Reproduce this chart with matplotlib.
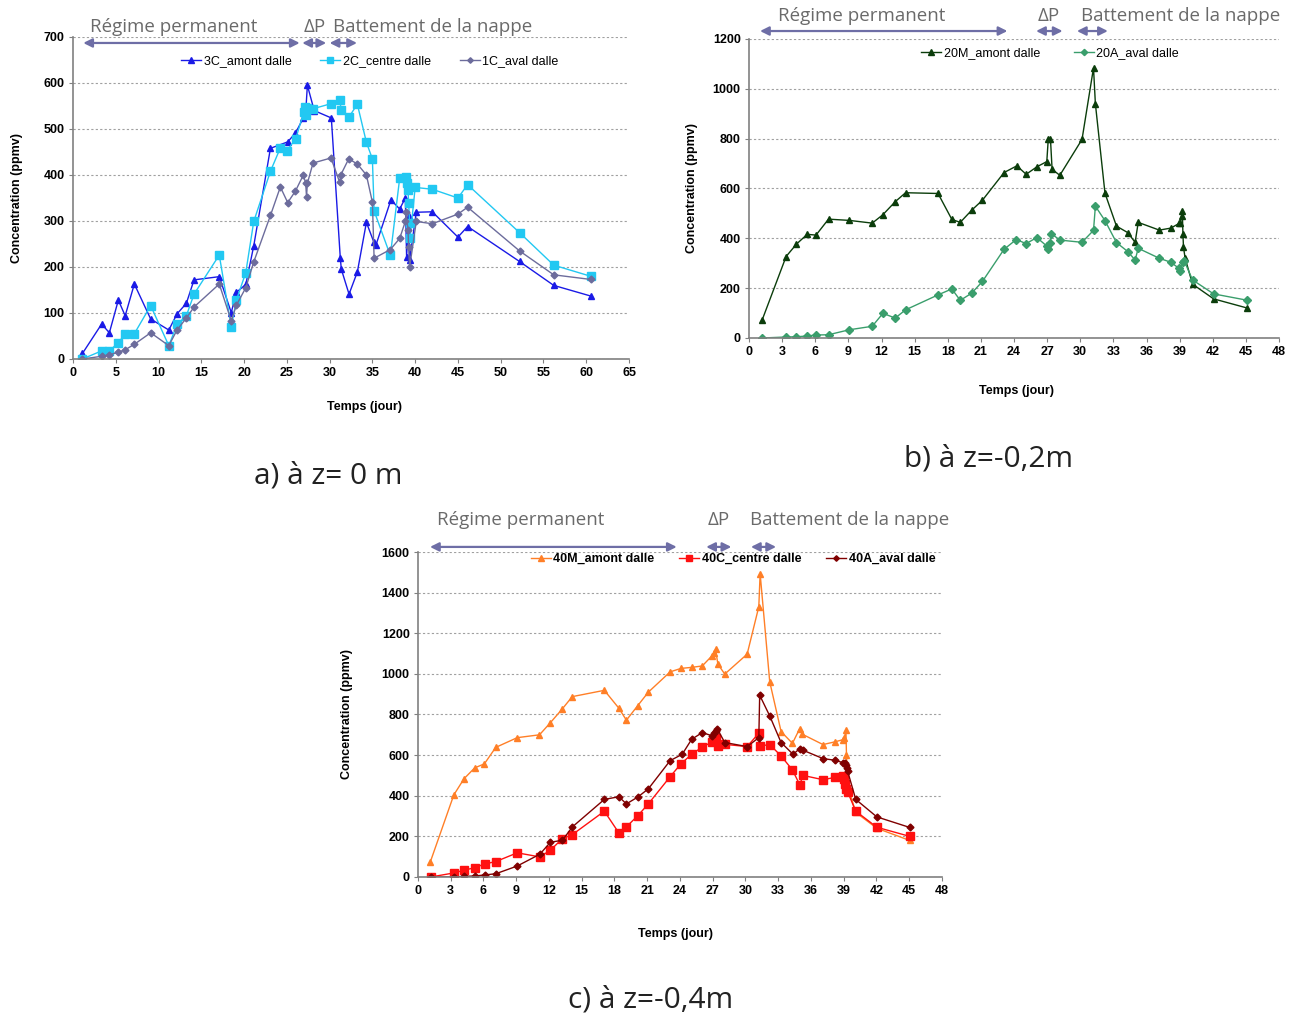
import numpy as np
import matplotlib
matplotlib.use('Agg')
import matplotlib.pyplot as plt

# Police pour les axes (proche d'Excel)
plt.rcParams['font.family'] = ['Liberation Sans', 'DejaVu Sans']

# ---- a) z = 0 m ----
t_3c = [1.1, 3.35, 4.25, 5.3, 6.1, 7.17, 9.08, 11.2, 12.16, 13.25, 14.15, 17.1, 18.5, 19.1, 20.2,
        21.13, 23.08, 25.1, 26.0, 26.93, 27.2, 27.4, 28.2, 30.2, 31.25, 31.37, 32.27, 33.24, 34.3,
        35.15, 35.4, 37.17, 38.19, 38.85, 39.0, 39.24, 39.35, 40.13, 42.0, 45.0, 46.13, 52.2, 56.2, 60.5]
c_3c = [12, 76, 57, 128, 94, 163, 87, 63, 98, 121, 172, 179, 101, 145, 162,
        246, 458, 472, 491, 524, 535, 595, 540, 524, 219, 195, 141, 189, 297,
        255, 247, 346, 326, 350, 222, 310, 215, 319, 320, 265, 288, 212, 160, 137]

t_2c = [1.1, 3.39, 4.25, 5.3, 6.1, 7.17, 9.08, 11.2, 12.16, 13.25, 14.15, 17.1, 18.5, 19.1, 20.2,
        21.13, 23.08, 24.24, 25.02, 26.04, 27.0, 27.1, 27.2, 27.4, 28.06, 30.16, 31.18, 31.37, 32.23,
        33.24, 34.3, 35.0, 35.2, 37.1, 38.19, 38.96, 39.08, 39.16, 39.24, 39.35, 39.4, 40.0, 42.0,
        45.0, 46.13, 52.3, 56.2, 60.5]
c_2c = [0, 18, 18, 35, 55, 55, 116, 29, 75, 94, 141, 226, 70, 128, 188,
        299, 408, 459, 453, 479, 538, 547, 531, 545, 544, 555, 562, 541, 525,
        554, 471, 435, 322, 225, 393, 395, 382, 368, 339, 295, 262, 373, 369,
        350, 379, 273, 204, 180]

t_1c = [1.1, 3.39, 4.25, 5.3, 6.1, 7.17, 9.08, 11.2, 12.16, 13.25, 14.15, 17.1, 18.5, 19.1, 20.2,
        21.13, 23.08, 24.24, 25.1, 26.0, 26.93, 27.2, 27.3, 27.4, 28.06, 30.16, 31.18, 31.3, 32.23,
        33.24, 34.3, 35.0, 35.2, 37.1, 38.19, 38.85, 38.96, 39.16, 39.24, 39.35, 40.13, 42.0, 45.0,
        46.13, 52.2, 56.2, 60.5]
c_1c = [0, 6, 9, 15, 20, 32, 57, 29, 63, 89, 113, 163, 83, 117, 155,
        211, 312, 374, 340, 365, 400, 382, 353, 382, 426, 437, 384, 400, 435,
        424, 400, 341, 219, 238, 262, 299, 320, 280, 244, 199, 299, 294, 315,
        330, 235, 183, 173]

# ---- b) z = -0,2 m ----
t_20m = [1.18, 3.36, 4.3, 5.27, 6.07, 7.2, 9.08, 11.16, 12.13, 13.24, 14.18, 17.12, 18.37, 19.13,
         20.17, 21.14, 23.1, 24.26, 25.1, 26.07, 26.97, 27.1, 27.3, 27.45, 28.15, 30.16, 31.2, 31.37,
         32.24, 33.28, 34.3, 34.97, 35.25, 37.16, 38.2, 38.96, 39.06, 39.17, 39.24, 39.3, 39.35, 39.5,
         40.17, 42.08, 45.06]
c_20m = [71, 327, 377, 416, 413, 477, 472, 461, 495, 547, 583, 580, 476, 464,
         513, 553, 664, 691, 657, 687, 708, 797, 800, 677, 653, 797, 1084, 940,
         581, 449, 423, 384, 464, 433, 441, 460, 463, 490, 511, 416, 364, 320,
         216, 157, 121]

t_20a = [1.18, 3.36, 4.3, 5.27, 6.07, 7.2, 9.08, 11.16, 12.13, 13.24, 14.18, 17.12, 18.37, 19.13,
         20.17, 21.14, 23.1, 24.2, 25.1, 26.07, 26.97, 27.1, 27.28, 27.38, 28.15, 30.16, 31.2, 31.37,
         32.24, 33.28, 34.3, 34.97, 35.25, 37.16, 38.2, 38.96, 39.06, 39.3, 39.4, 40.17, 42.08, 45.06]
c_20a = [0, 4, 5, 8, 12, 13, 33, 47, 99, 80, 113, 173, 197, 151,
         180, 227, 356, 395, 379, 403, 369, 357, 380, 419, 393, 384, 432, 529,
         471, 383, 347, 313, 360, 320, 304, 279, 267, 307, 311, 233, 177, 152]

# ---- c) z = -0,4 m ----
t_40m = [1.14, 3.28, 4.22, 5.19, 6.08, 7.12, 9.09, 11.13, 12.1, 13.21, 14.13, 17.07, 18.4, 19.09,
         20.12, 21.1, 23.1, 24.1, 25.07, 26.04, 26.95, 27.1, 27.26, 27.47, 28.1, 30.15, 31.22, 31.34,
         32.22, 33.26, 34.3, 34.97, 35.2, 37.1, 38.16, 38.93, 39.05, 39.2, 39.25, 39.35, 40.1,
         42.03, 45.04]
c_40m = [76, 404, 484, 537, 557, 638, 686, 700, 758, 827, 888, 919, 831, 772,
         843, 910, 1010, 1027, 1032, 1039, 1090, 1103, 1120, 1048, 999, 1097, 1331, 1494,
         961, 716, 658, 731, 703, 652, 665, 676, 683, 724, 602, 450, 318,
         240, 180]

t_40c = [1.16, 3.29, 4.2, 5.2, 6.1, 7.13, 9.09, 11.16, 12.13, 13.23, 14.15, 17.07, 18.4, 19.09,
         20.12, 21.1, 23.1, 24.1, 25.07, 26.04, 26.95, 27.26, 27.47, 28.1, 30.15, 31.22, 31.34,
         32.22, 33.26, 34.3, 34.97, 35.27, 37.1, 38.16, 38.93, 39.05, 39.14, 39.23, 39.35, 40.1,
         42.03, 45.04]
c_40c = [0, 20, 33, 46, 64, 76, 119, 99, 132, 189, 209, 324, 217, 247,
         301, 360, 494, 558, 604, 640, 665, 683, 645, 653, 642, 708, 645,
         652, 596, 527, 454, 500, 479, 490, 497, 481, 456, 431, 420, 324,
         245, 200]

t_40a = [1.16, 3.29, 4.2, 5.2, 6.1, 7.13, 9.09, 11.16, 12.13, 13.23, 14.15, 17.07, 18.4, 19.09,
         20.12, 21.1, 23.1, 24.2, 25.07, 26.04, 26.95, 27.1, 27.26, 27.4, 28.1, 30.15, 31.22, 31.3,
         32.22, 33.26, 34.36, 34.97, 35.27, 37.1, 38.16, 38.93, 39.14, 39.2, 39.29, 39.35, 40.1,
         42.03, 45.04]
c_40a = [0, 0, 3, 5, 10, 16, 54, 112, 171, 181, 247, 382, 395, 360,
         393, 434, 573, 604, 678, 711, 695, 708, 719, 731, 662, 642, 686, 895,
         793, 662, 604, 632, 624, 583, 575, 563, 560, 550, 538, 522, 382,
         296, 244]

# Couleurs
col_fleche = '#6e6ea6'
col_texte = '#6a6a6a'
col_grille = '#a0a0a0'

fig = plt.figure(figsize=(13.02, 10.18), dpi=100)
fig.patch.set_facecolor('white')

ax_a = fig.add_axes([0.05607, 0.64735, 0.42704, 0.31631])
ax_b = fig.add_axes([0.57527, 0.66798, 0.40707, 0.29371])
ax_c = fig.add_axes([0.32104, 0.13851, 0.40246, 0.31925])


def style_axe(ax, xmax, xstep, ymax, ystep, ylab_x, xlab_y, xlab_x):
    ax.set_xlim(0, xmax)
    ax.set_ylim(0, ymax)
    ax.set_xticks(np.arange(0, xmax + 1, xstep))
    ax.set_yticks(np.arange(0, ymax + 1, ystep))
    ax.spines['top'].set_visible(False)
    ax.spines['right'].set_visible(False)
    for s in ['left', 'bottom']:
        ax.spines[s].set_color('#808080')
        ax.spines[s].set_linewidth(1.2)
    ax.grid(axis='y', linestyle=(0, (2, 2)), color=col_grille, linewidth=0.8)
    ax.set_axisbelow(True)
    ax.tick_params(axis='both', direction='out', length=3, color='#808080', labelsize=9, pad=3)
    for lab in ax.get_xticklabels() + ax.get_yticklabels():
        lab.set_fontweight('bold')
    ax.set_ylabel('Concentration (ppmv)', fontsize=9, fontweight='bold')
    ax.set_xlabel('Temps (jour)', fontsize=9, fontweight='bold')
    ax.yaxis.set_label_coords(ylab_x, 0.5)
    ax.xaxis.set_label_coords(xlab_x, xlab_y)


def fleches(ax, segs, y):
    for x0, x1 in segs:
        ax.annotate('', xy=(x1, y), xytext=(x0, y), xycoords='data', annotation_clip=False,
                    arrowprops=dict(arrowstyle='<|-|>', color=col_fleche, lw=1.6,
                                    mutation_scale=13, shrinkA=0, shrinkB=0))


def textes(ax, pos, y):
    for txt, x in pos:
        ax.text(x, y, txt, ha='center', va='center', fontsize=13.5, color=col_texte,
                family=['Open Sans', 'DejaVu Sans'], clip_on=False)


# a)
ax_a.plot(t_3c, c_3c, color='#1a1ae6', lw=1, marker='^', ms=5, label='3C_amont dalle')
ax_a.plot(t_2c, c_2c, color='#22c8f2', lw=1, marker='s', ms=5.5, label='2C_centre dalle')
ax_a.plot(t_1c, c_1c, color='#6c6c9c', lw=1, marker='D', ms=3.5, label='1C_aval dalle')
style_axe(ax_a, 65, 5, 700, 100, -0.09, -0.13, 0.525)
ax_a.legend(loc='center', bbox_to_anchor=(0.534, 0.925), ncol=3, frameon=False, fontsize=9,
            handlelength=1.6, columnspacing=2.3, handletextpad=0.2, markerscale=0.8)
fleches(ax_a, [(1.2, 26.5), (26.8, 29.6), (30.0, 33.2)], 687)
textes(ax_a, [('Régime permanent', 11.8), ('ΔP', 28.2), ('Battement de la nappe', 42.1)], 722)

# b)
ax_b.plot(t_20m, c_20m, color='#0b3d0b', lw=1, marker='^', ms=5, label='20M_amont dalle')
ax_b.plot(t_20a, c_20a, color='#3a9e6c', lw=1, marker='D', ms=4, label='20A_aval dalle')
style_axe(ax_b, 48, 3, 1200, 200, -0.096, -0.157, 0.504)
ax_b.legend(loc='center', bbox_to_anchor=(0.568, 0.953), ncol=2, frameon=False, fontsize=9,
            handlelength=1.6, columnspacing=2.7, handletextpad=0.2, markerscale=0.8)
fleches(ax_b, [(1.0, 23.4), (26.0, 28.4), (29.7, 32.5)], 1232)
textes(ax_b, [('Régime permanent', 10.2), ('ΔP', 27.1), ('Battement de la nappe', 39.1)], 1292)

# c)
ax_c.plot(t_40m, c_40m, color='#ff7f27', lw=1, marker='^', ms=5, label='40M_amont dalle')
ax_c.plot(t_40c, c_40c, color='#ff1010', lw=1, marker='s', ms=5.5, label='40C_centre dalle')
ax_c.plot(t_40a, c_40a, color='#800000', lw=1, marker='D', ms=3.5, label='40A_aval dalle')
style_axe(ax_c, 48, 3, 1600, 200, -0.124, -0.157, 0.492)
leg = ax_c.legend(loc='center', bbox_to_anchor=(0.601, 0.978), ncol=3, frameon=False,
                  fontsize=9, handlelength=1.6, columnspacing=2.0, handletextpad=0.2,
                  markerscale=0.8)
for t in leg.get_texts():
    t.set_fontweight('bold')
fleches(ax_c, [(1.1, 23.7), (26.4, 28.7), (30.5, 32.8)], 1625)
textes(ax_c, [('Régime permanent', 9.4), ('ΔP', 27.5), ('Battement de la nappe', 39.5)], 1758)

# Légendes sous les graphes
cap = dict(ha='center', va='center', fontsize=21.5, color='#222222', family=['Open Sans', 'DejaVu Sans'])
fig.text(328 / 1302, 1 - 476 / 1018, 'a) à z= 0 m', **cap)
fig.text(989 / 1302, 1 - 459 / 1018, 'b) à z=-0,2m', **cap)
fig.text(651 / 1302, 1 - 1000 / 1018, 'c) à z=-0,4m', **cap)

fig.savefig('out.png', dpi=100)
